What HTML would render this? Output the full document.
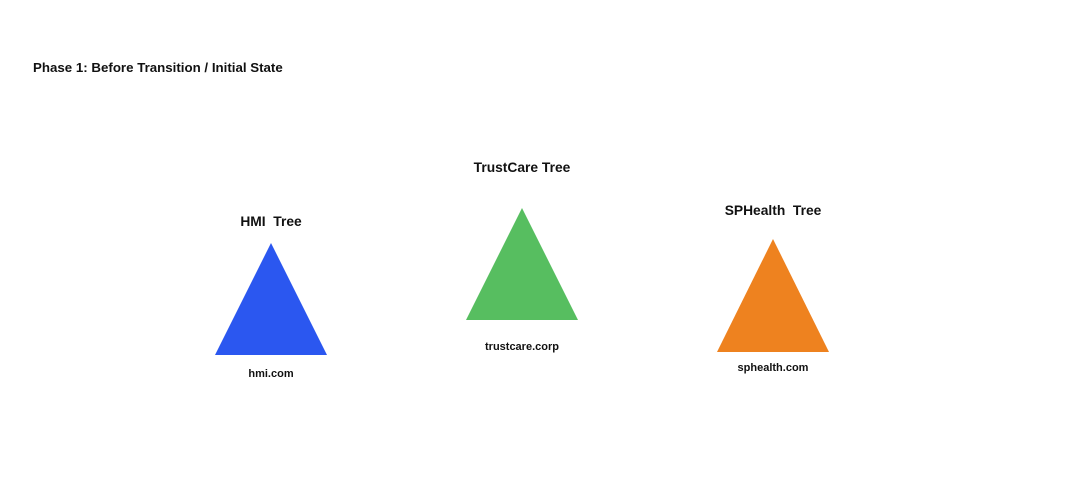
<!DOCTYPE html>
<html><head><meta charset="utf-8"><style>
html,body{margin:0;padding:0;background:#fff;}
body{width:1075px;height:477px;overflow:hidden;position:relative;font-family:"Liberation Sans",sans-serif;}
text{white-space:pre;}
</style></head><body>
<svg width="1075" height="477" xmlns="http://www.w3.org/2000/svg" xml:space="preserve" style="position:absolute;left:0;top:0">
<text x="33" y="72" font-family="Liberation Sans, sans-serif" font-weight="bold" font-size="13.3" fill="#111">Phase 1: Before Transition / Initial State</text>
<text x="271" y="226" text-anchor="middle" font-family="Liberation Sans, sans-serif" font-weight="bold" font-size="13.8" fill="#111">HMI  Tree</text>
<polygon points="271,243 327,355 215,355" fill="#2b57f0"/>
<text x="271" y="377" text-anchor="middle" font-family="Liberation Sans, sans-serif" font-weight="bold" font-size="11" fill="#111">hmi.com</text>
<text x="522" y="172" text-anchor="middle" font-family="Liberation Sans, sans-serif" font-weight="bold" font-size="13.8" fill="#111">TrustCare Tree</text>
<polygon points="522,208 578,320 466,320" fill="#57be60"/>
<text x="522" y="350" text-anchor="middle" font-family="Liberation Sans, sans-serif" font-weight="bold" font-size="11" fill="#111">trustcare.corp</text>
<text x="773" y="215" text-anchor="middle" font-family="Liberation Sans, sans-serif" font-weight="bold" font-size="13.8" fill="#111">SPHealth  Tree</text>
<polygon points="773,239 829,352 717,352" fill="#ee821f"/>
<text x="773" y="371" text-anchor="middle" font-family="Liberation Sans, sans-serif" font-weight="bold" font-size="11" fill="#111">sphealth.com</text>
</svg>
</body></html>
